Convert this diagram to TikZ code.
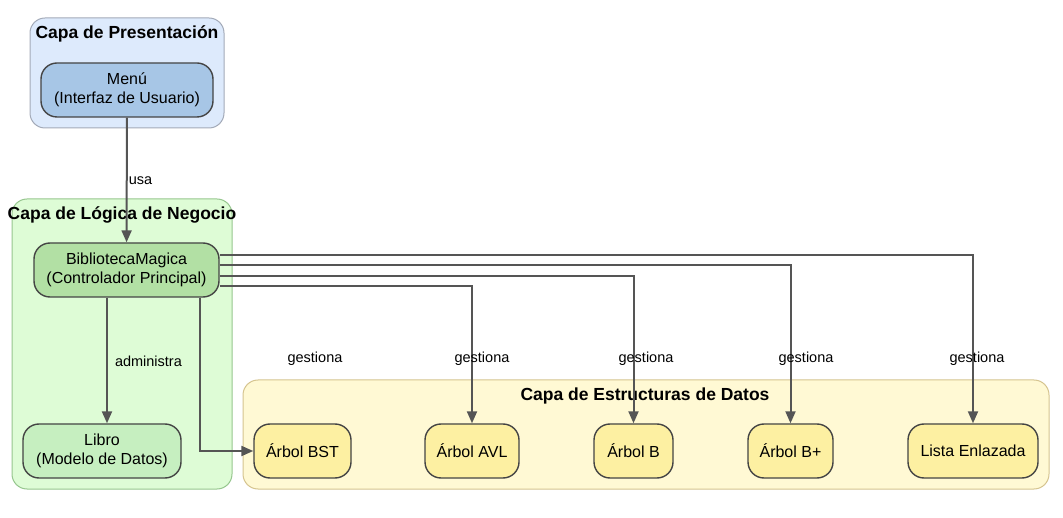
\documentclass[tikz,border=0pt]{standalone}
\usepackage{fontspec}
\setmainfont{Liberation Sans}
\usepackage{xcolor}
\usepackage{tikz}
\usetikzlibrary{arrows.meta,positioning,calc}

\definecolor{presfill}{HTML}{DDEAFC}
\definecolor{presline}{HTML}{A3AAB8}
\definecolor{menufill}{HTML}{A7C6E6}
\definecolor{logfill}{HTML}{DEFCD6}
\definecolor{logline}{HTML}{96C68E}
\definecolor{bibfill}{HTML}{B2E0A4}
\definecolor{librofill}{HTML}{C6EFC0}
\definecolor{datfill}{HTML}{FFF9D4}
\definecolor{datline}{HTML}{D5C48F}
\definecolor{estfill}{HTML}{FDF0A2}
\definecolor{nodeline}{HTML}{444444}
\definecolor{edgeline}{HTML}{555555}

\begin{document}
\begin{tikzpicture}[
        x=1pt,y=-1pt,
        font=\fontsize{16}{19}\selectfont,
        >={Triangle[length=12pt,width=10pt]},
        cluster/.style={rectangle,draw,line width=1pt,rounded corners=15pt,inner sep=0pt},
        title/.style={font=\fontsize{17.5}{20}\selectfont\bfseries,inner sep=0pt},
        block/.style={rectangle,draw=nodeline,line width=1.4pt,rounded corners=16pt,minimum height=54pt,inner sep=0pt,align=center},
        estblock/.style={block,fill=estfill},
        lbl/.style={font=\fontsize{14.5}{17}\selectfont,inner sep=0pt},
        arrow/.style={->,draw=edgeline,line width=2pt}
    ]
        \useasboundingbox (0,0) rectangle (1063,518);

        % capas
        \node[cluster,draw=presline,fill=presfill,minimum width=194pt,minimum height=110pt] (pres) at (127,73) {};
        \node[cluster,draw=logline,fill=logfill,minimum width=220pt,minimum height=290pt] (logica) at (122,344) {};
        \node[cluster,draw=datline,fill=datfill,minimum width=806pt,minimum height=109pt] (datos) at (646,434.5) {};
        \node[title] (prestitle) at (127,34) {Capa de Presentación};
        \node[title] (logtitle) at (122,215) {Capa de Lógica de Negocio};
        \node[title] (dattitle) at (645,396) {Capa de Estructuras de Datos};

        % componentes
        \node[block,fill=menufill,minimum width=172pt] (menu) at (127,90) {Menú\\(Interfaz de Usuario)};
        \node[block,fill=bibfill,minimum width=185pt] (biblio) at (126.5,270) {BibliotecaMagica\\(Controlador Principal)};
        \node[block,fill=librofill,minimum width=158pt] (libro) at (102,451) {Libro\\(Modelo de Datos)};
        \node[estblock,minimum width=97pt] (bst) at (302.5,451) {Árbol BST};
        \node[estblock,minimum width=94pt] (avl) at (472,451) {Árbol AVL};
        \node[estblock,minimum width=79pt] (arbolb) at (633.5,451) {Árbol B};
        \node[estblock,minimum width=85pt] (arbolbp) at (790.5,451) {Árbol B+};
        \node[estblock,minimum width=130pt] (lista) at (973,451) {Lista Enlazada};

        % relaciones
        \draw[arrow] (menu) -- node[lbl,anchor=west,xshift=1pt,yshift=-1pt]{usa} (biblio);
        \draw[arrow] ([xshift=-19.5pt]biblio.south) -- node[lbl,anchor=west,xshift=7pt,yshift=-1pt]{administra} ([xshift=5pt]libro.north);
        \draw[arrow] ([xshift=73.5pt]biblio.south) |- (bst.west) node[lbl] at (315,359) {gestiona};
        \draw[arrow] ([yshift=-16pt]biblio.east) -| (avl.north) node[lbl] at (482,359) {gestiona};
        \draw[arrow] ([yshift=-6pt]biblio.east) -| (arbolb.north) node[lbl] at (646,359) {gestiona};
        \draw[arrow] ([yshift=5pt]biblio.east) -| (arbolbp.north) node[lbl] at (806,359) {gestiona};
        \draw[arrow] ([yshift=15pt]biblio.east) -| (lista.north) node[lbl] at (977,359) {gestiona};
    \end{tikzpicture}
\end{document}
